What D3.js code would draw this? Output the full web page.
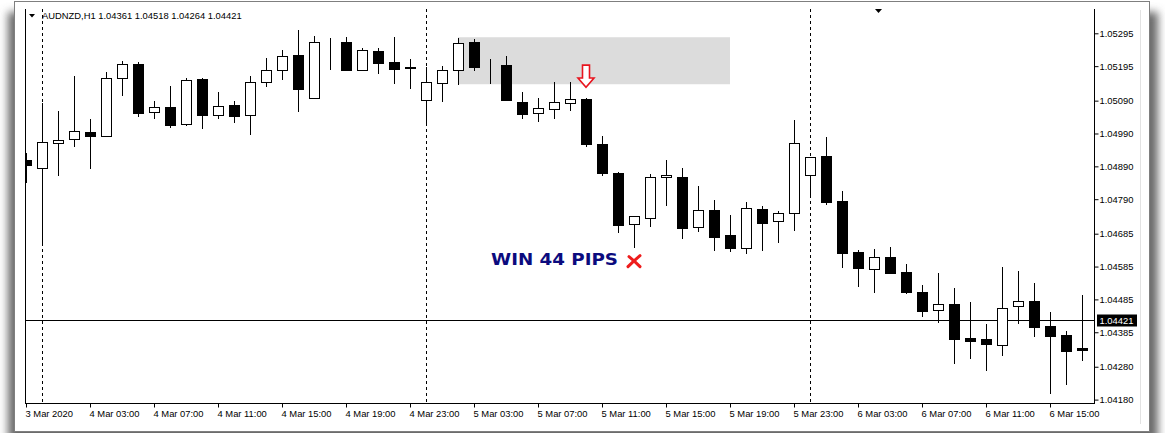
<!DOCTYPE html>
<html>
<head>
<meta charset="utf-8">
<script src="https://cdn.jsdelivr.net/npm/d3@7"></script>
<style>
  body { margin: 0; background: #fff; }
  svg { display: block; }
  text { font-family: "Liberation Sans", Arial, sans-serif; }
</style>
</head>
<body>
<div id="chart"></div>
<script>
// AUDNZD H1, first visible bar = 3 Mar 2020 23:00, one bar per hour
const symbol = 'AUDNZD,H1';
const lastQuote = ['1.04361', '1.04518', '1.04264', '1.04421'];
const firstBar = new Date(2020, 2, 3, 23);

const opens = [
  1.04909, 1.04885, 1.04961, 1.04973, 1.04994, 1.04982, 1.05159, 1.05201, 1.05055, 1.05070,
  1.05019, 1.05156, 1.05046, 1.05077, 1.05046, 1.05147, 1.05183, 1.05229, 1.05098, 1.05268,
  1.05268, 1.05183, 1.05241, 1.05207, 1.05193, 1.05092, 1.05143, 1.05183, 1.05268, 1.05198,
  1.05198, 1.05086, 1.05052, 1.05064, 1.05083, 1.05095, 1.04958, 1.04870, 1.04714, 1.04733,
  1.04857, 1.04857, 1.04705, 1.04757, 1.04681, 1.04641, 1.04760, 1.04724, 1.04748, 1.04864,
  1.04921, 1.04784, 1.04629, 1.04577, 1.04614, 1.04568, 1.04507, 1.04453, 1.04471, 1.04367,
  1.04364, 1.04346, 1.04465, 1.04480, 1.04404, 1.04377, 1.04337
];
const highs = [
  1.04930, 1.05083, 1.05058, 1.05165, 1.05034, 1.05177, 1.05210, 1.05207, 1.05089, 1.05134,
  1.05159, 1.05159, 1.05116, 1.05089, 1.05165, 1.05220, 1.05244, 1.05305, 1.05286, 1.05280,
  1.05283, 1.05250, 1.05250, 1.05283, 1.05216, 1.05192, 1.05195, 1.05280, 1.05277, 1.05216,
  1.05226, 1.05116, 1.05098, 1.05147, 1.05147, 1.05098, 1.04982, 1.04873, 1.04739, 1.04867,
  1.04909, 1.04885, 1.04830, 1.04787, 1.04742, 1.04781, 1.04769, 1.04754, 1.05031, 1.04918,
  1.04979, 1.04815, 1.04635, 1.04638, 1.04644, 1.04593, 1.04529, 1.04565, 1.04520, 1.04477,
  1.04410, 1.04584, 1.04571, 1.04535, 1.04447, 1.04389, 1.04498
];
const lows = [
  1.04839, 1.04657, 1.04860, 1.04949, 1.04882, 1.04979, 1.05104, 1.05040, 1.05034, 1.05007,
  1.05013, 1.05003, 1.05034, 1.05022, 1.04985, 1.05131, 1.05153, 1.05055, 1.05098, 1.05183,
  1.05183, 1.05180, 1.05171, 1.05140, 1.05125, 1.05019, 1.05086, 1.05137, 1.05180, 1.05140,
  1.05092, 1.05034, 1.05025, 1.05034, 1.05058, 1.04949, 1.04860, 1.04687, 1.04641, 1.04705,
  1.04769, 1.04669, 1.04690, 1.04632, 1.04629, 1.04623, 1.04632, 1.04657, 1.04693, 1.04803,
  1.04772, 1.04580, 1.04523, 1.04504, 1.04562, 1.04501, 1.04431, 1.04413, 1.04288, 1.04304,
  1.04267, 1.04313, 1.04410, 1.04371, 1.04197, 1.04224, 1.04298
];
const closes = [
  1.04894, 1.04964, 1.04970, 1.04997, 1.04982, 1.05159, 1.05201, 1.05052, 1.05070, 1.05016,
  1.05153, 1.05046, 1.05073, 1.05043, 1.05147, 1.05183, 1.05226, 1.05125, 1.05268, 1.05268,
  1.05183, 1.05244, 1.05204, 1.05186, 1.05190, 1.05147, 1.05183, 1.05265, 1.05192, 1.05198,
  1.05092, 1.05049, 1.05067, 1.05086, 1.05095, 1.04958, 1.04870, 1.04711, 1.04739, 1.04857,
  1.04864, 1.04702, 1.04757, 1.04675, 1.04641, 1.04763, 1.04717, 1.04748, 1.04961, 1.04918,
  1.04781, 1.04626, 1.04580, 1.04614, 1.04565, 1.04507, 1.04450, 1.04471, 1.04364, 1.04358,
  1.04349, 1.04459, 1.04480, 1.04401, 1.04374, 1.04328, 1.04331
];

const priceTicks = [1.05295, 1.05195, 1.05090, 1.04990, 1.04890, 1.04790,
  1.04685, 1.04585, 1.04485, 1.04385, 1.04280, 1.04180];
const bidPrice = 1.04421;

const timeTicks = [
  new Date(2020, 2, 3, 23), new Date(2020, 2, 4, 3), new Date(2020, 2, 4, 7), new Date(2020, 2, 4, 11),
  new Date(2020, 2, 4, 15), new Date(2020, 2, 4, 19), new Date(2020, 2, 4, 23), new Date(2020, 2, 5, 3),
  new Date(2020, 2, 5, 7), new Date(2020, 2, 5, 11), new Date(2020, 2, 5, 15), new Date(2020, 2, 5, 19),
  new Date(2020, 2, 5, 23), new Date(2020, 2, 6, 3), new Date(2020, 2, 6, 7), new Date(2020, 2, 6, 11),
  new Date(2020, 2, 6, 15)
];
const timeLabels = ['3 Mar 2020', '4 Mar 03:00', '4 Mar 07:00', '4 Mar 11:00', '4 Mar 15:00',
  '4 Mar 19:00', '4 Mar 23:00', '5 Mar 03:00', '5 Mar 07:00', '5 Mar 11:00', '5 Mar 15:00',
  '5 Mar 19:00', '5 Mar 23:00', '6 Mar 03:00', '6 Mar 07:00', '6 Mar 11:00', '6 Mar 15:00'];
const daySeparators = [new Date(2020, 2, 4, 0), new Date(2020, 2, 5, 0), new Date(2020, 2, 6, 0)];

// supply zone + signal arrow + result note
const zoneTimes = [new Date(2020, 2, 5, 2), new Date(2020, 2, 5, 19)];
const zonePrices = [1.05283, 1.05140];
const arrowAt = [new Date(2020, 2, 5, 10), 1.05198, 1.05131];
const noteText = 'WIN 44 PIPS';
const noteAt = [new Date(2020, 2, 5, 4), 1.04590];
const crossAt = [new Date(2020, 2, 5, 13), 1.04600];

const W = 1165, H = 433;
const plot = { left: 25, right: 1094, top: 9, bottom: 403 };

const bars = opens.map((o, i) => ({
  t: d3.timeHour.offset(firstBar, i),
  o, h: highs[i], l: lows[i], c: closes[i]
}));

const x = d3.scaleTime()
  .domain([firstBar, d3.timeHour.offset(firstBar, opens.length - 1)])
  .range([26, 1082]);
const y = d3.scaleLinear()
  .domain([1.04180, 1.05295])
  .range([399.6, 33.3]);

const px = v => Math.round(v) + 0.5;

const svg = d3.select('#chart').append('svg')
  .attr('width', W).attr('height', H);

// frame with soft shadow
const defs = svg.append('defs');
defs.append('filter').attr('id', 'blur')
  .attr('x', '-5%').attr('y', '-5%').attr('width', '110%').attr('height', '110%')
  .append('feGaussianBlur').attr('stdDeviation', 4);
defs.append('clipPath').attr('id', 'plotclip')
  .append('rect')
  .attr('x', plot.left).attr('y', plot.top)
  .attr('width', plot.right - plot.left).attr('height', plot.bottom - plot.top);

svg.append('rect')
  .attr('x', 8).attr('y', 12).attr('width', 1150).attr('height', 430)
  .attr('fill', '#6a6a6a').attr('filter', 'url(#blur)');
svg.append('rect')
  .attr('x', 14.5).attr('y', 1.5).attr('width', 1135).attr('height', 430)
  .attr('fill', '#fff').attr('stroke', '#7f7f7f');
svg.append('line')
  .attr('x1', 1140.5).attr('x2', 1140.5).attr('y1', 10).attr('y2', 424)
  .attr('stroke', '#e2e2e2');

const g = svg.append('g').attr('clip-path', 'url(#plotclip)');

// zone
g.append('rect')
  .attr('x', x(zoneTimes[0])).attr('width', x(zoneTimes[1]) - x(zoneTimes[0]))
  .attr('y', y(zonePrices[0])).attr('height', y(zonePrices[1]) - y(zonePrices[0]))
  .attr('fill', '#dcdcdc');

// day separators
g.selectAll('line.sep').data(daySeparators).join('line')
  .attr('class', 'sep')
  .attr('x1', d => px(x(d))).attr('x2', d => px(x(d)))
  .attr('y1', plot.top).attr('y2', plot.bottom)
  .attr('stroke', '#000').attr('stroke-dasharray', '3,3');

// bid line
g.append('line')
  .attr('x1', plot.left).attr('x2', plot.right)
  .attr('y1', px(y(bidPrice))).attr('y2', px(y(bidPrice)))
  .attr('stroke', '#000');

// candles
const candle = g.selectAll('g.candle').data(bars).join('g').attr('class', 'candle');
candle.append('line')
  .attr('x1', d => px(x(d.t))).attr('x2', d => px(x(d.t)))
  .attr('y1', d => Math.round(y(d.h))).attr('y2', d => Math.round(y(d.l)))
  .attr('stroke', '#000');
candle.append('rect')
  .attr('x', d => Math.round(x(d.t)) - 5 + 0.5)
  .attr('width', 10)
  .attr('y', d => Math.round(y(Math.max(d.o, d.c))) + 0.5)
  .attr('height', d => Math.max(0, Math.round(y(Math.min(d.o, d.c))) - Math.round(y(Math.max(d.o, d.c)))))
  .attr('fill', d => (d.c >= d.o ? '#fff' : '#000'))
  .attr('stroke', '#000');

// signal arrow (hollow, pointing down)
{
  const ax = x(arrowAt[0]), top = y(arrowAt[1]), tip = y(arrowAt[2]);
  const neck = top + (tip - top) * 0.58;
  const pts = [[ax - 3.5, top], [ax + 3.5, top], [ax + 3.5, neck], [ax + 8, neck],
    [ax, tip], [ax - 8, neck], [ax - 3.5, neck]];
  svg.append('path')
    .attr('d', d3.line()(pts) + 'Z')
    .attr('fill', '#fff').attr('stroke', '#e8141e').attr('stroke-width', 1.6)
    .attr('stroke-linejoin', 'miter');
}

// result note
svg.append('text')
  .attr('x', x(noteAt[0]) + 1).attr('y', y(noteAt[1]))
  .attr('textLength', 127).attr('lengthAdjust', 'spacingAndGlyphs')
  .style('font-family', '"DejaVu Sans", sans-serif')
  .style('font-weight', 'bold').style('font-size', '16.5px')
  .attr('fill', '#0b0b7e')
  .text(noteText);
{
  const cx = x(crossAt[0]), cy = y(crossAt[1]);
  svg.append('path')
    .attr('d', `M${cx - 5},${cy - 5}Q${cx},${cy - 1} ${cx + 6},${cy + 5}M${cx + 6},${cy - 6}Q${cx - 1},${cy} ${cx - 6},${cy + 5}`)
    .attr('fill', 'none').attr('stroke', '#ee1c1c').attr('stroke-width', 3)
    .attr('stroke-linecap', 'round');
}

// plot borders
svg.append('line')
  .attr('x1', plot.left + 0.5).attr('x2', plot.left + 0.5)
  .attr('y1', plot.top).attr('y2', plot.bottom + 0.5)
  .attr('stroke', '#000');
svg.append('line')
  .attr('x1', plot.right + 0.5).attr('x2', plot.right + 0.5)
  .attr('y1', plot.top).attr('y2', plot.bottom + 0.5)
  .attr('stroke', '#000');
svg.append('line')
  .attr('x1', plot.left).attr('x2', plot.right + 1)
  .attr('y1', plot.bottom + 0.5).attr('y2', plot.bottom + 0.5)
  .attr('stroke', '#000');

// price axis
const yAxis = svg.append('g')
  .attr('transform', `translate(${plot.right + 0.5},0)`)
  .call(d3.axisRight(y).tickValues(priceTicks).tickSize(4).tickSizeOuter(0)
    .tickFormat(d3.format('.5f')));
yAxis.select('.domain').remove();
yAxis.selectAll('.tick line').attr('stroke', '#000');
yAxis.selectAll('.tick text')
  .attr('x', 5).attr('fill', '#000')
  .style('font-size', '9.4px').style('font-family', '"Liberation Sans", Arial, sans-serif');

// bid label
svg.append('rect')
  .attr('x', plot.right + 3).attr('y', Math.round(y(bidPrice)) - 5.5)
  .attr('width', 40).attr('height', 12).attr('fill', '#000');
svg.append('text')
  .attr('x', plot.right + 5.5).attr('y', y(bidPrice)).attr('dy', '0.35em')
  .attr('fill', '#fff').style('font-size', '9.4px')
  .text(d3.format('.5f')(bidPrice));

// time axis
const xAxis = svg.append('g')
  .attr('transform', `translate(0,${plot.bottom + 0.5})`)
  .call(d3.axisBottom(x).tickValues(timeTicks).tickSize(4).tickSizeOuter(0)
    .tickFormat((d, i) => timeLabels[i]));
xAxis.select('.domain').remove();
xAxis.selectAll('.tick line').attr('stroke', '#000');
xAxis.selectAll('.tick text')
  .attr('text-anchor', 'start').attr('x', -1).attr('y', 13).attr('dy', 0)
  .attr('fill', '#000')
  .style('font-size', '9.4px').style('font-family', '"Liberation Sans", Arial, sans-serif');

// header
svg.append('path').attr('d', 'M29,14L35,14L32,17.5Z').attr('fill', '#000');
svg.append('text')
  .attr('x', 42).attr('y', 18.5)
  .attr('fill', '#000').style('font-size', '9.4px')
  .text(`${symbol}  ${lastQuote.join(' ')}`);

// chart shift marker
svg.append('path').attr('d', 'M875,9L882,9L878.5,13Z').attr('fill', '#000');
</script>
</body>
</html>
